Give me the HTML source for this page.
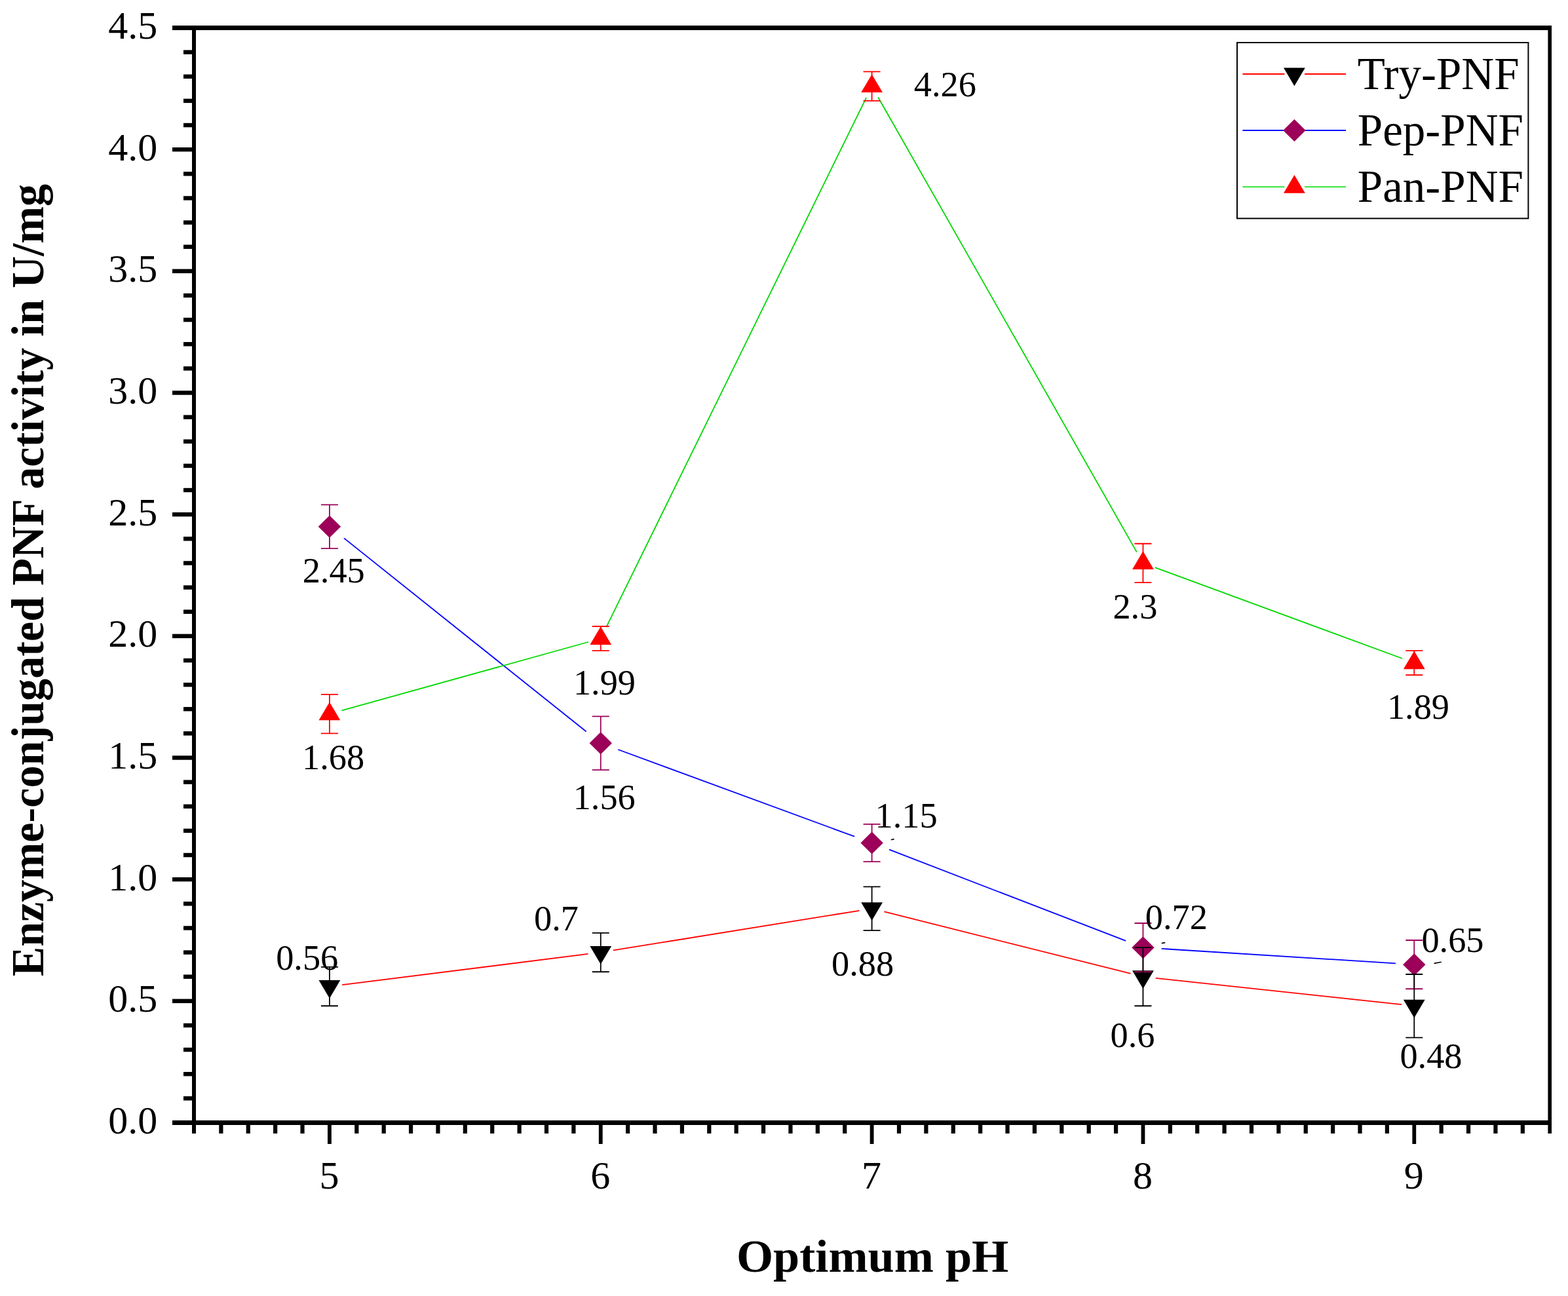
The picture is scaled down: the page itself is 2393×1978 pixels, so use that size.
<!DOCTYPE html>
<html lang="en">
<head>
<meta charset="utf-8">
<title>Enzyme-conjugated PNF activity vs. optimum pH</title>
<style>
html,body{margin:0;padding:0;background:#ffffff;}
body{width:2393px;height:1978px;overflow:hidden;}
svg{display:block;}
</style>
</head>
<body>
<svg width="2393" height="1978" viewBox="0 0 2393 1978" role="img" aria-label="Enzyme-conjugated PNF activity versus optimum pH">
<rect x="0" y="0" width="2393" height="1978" fill="#ffffff"/>
<g fill="none" stroke-width="1.8" stroke-linecap="butt">
<line x1="522.17" y1="1503.14" x2="897.51" y2="1455.98" stroke="#ff0000"/>
<line x1="935.91" y1="1450.47" x2="1311.45" y2="1389.82" stroke="#ff0000"/>
<line x1="1349.42" y1="1391.45" x2="1725.62" y2="1485.97" stroke="#ff0000"/>
<line x1="1763.73" y1="1492.78" x2="2138.99" y2="1533.18" stroke="#ff0000"/>
<line x1="525.03" y1="821.39" x2="894.65" y2="1116.56" stroke="#0000ff"/>
<line x1="943.32" y1="1143.99" x2="1304.04" y2="1276.7" stroke="#0000ff"/>
<line x1="1357" y1="1296.65" x2="1718.04" y2="1435.95" stroke="#0000ff"/>
<line x1="1772.68" y1="1447.91" x2="2130.04" y2="1470.36" stroke="#0000ff"/>
<line x1="521.61" y1="1084.46" x2="898.07" y2="979.75" stroke="#00d800"/>
<line x1="925.31" y1="957.13" x2="1322.05" y2="149.03" stroke="#00d800"/>
<line x1="1340.19" y1="148.48" x2="1734.85" y2="842.57" stroke="#00d800"/>
<line x1="1762.65" y1="866.13" x2="2140.07" y2="1004.98" stroke="#00d800"/>
</g>
<polygon points="486.52,1496.05 519.32,1496.05 502.92,1523.75" fill="#000000"/>
<polygon points="900.36,1444.07 933.16,1444.07 916.76,1471.77" fill="#000000"/>
<polygon points="1314.2,1377.23 1347,1377.23 1330.6,1404.93" fill="#000000"/>
<polygon points="1728.04,1481.2 1760.84,1481.2 1744.44,1508.9" fill="#000000"/>
<polygon points="2141.88,1525.76 2174.68,1525.76 2158.28,1553.46" fill="#000000"/>
<polygon points="485.72,803.73 502.92,786.73 520.12,803.73 502.92,820.73" fill="#9c0058"/>
<polygon points="899.56,1134.22 916.76,1117.22 933.96,1134.22 916.76,1151.22" fill="#9c0058"/>
<polygon points="1313.4,1286.47 1330.6,1269.47 1347.8,1286.47 1330.6,1303.47" fill="#9c0058"/>
<polygon points="1727.24,1446.14 1744.44,1429.14 1761.64,1446.14 1744.44,1463.14" fill="#9c0058"/>
<polygon points="2141.08,1472.13 2158.28,1455.13 2175.48,1472.13 2158.28,1489.13" fill="#9c0058"/>
<polygon points="486.52,1099.16 519.32,1099.16 502.92,1071.46" fill="#ff0000"/>
<polygon points="900.36,984.05 933.16,984.05 916.76,956.35" fill="#ff0000"/>
<polygon points="1314.2,141.12 1347,141.12 1330.6,113.42" fill="#ff0000"/>
<polygon points="1728.04,868.93 1760.84,868.93 1744.44,841.23" fill="#ff0000"/>
<polygon points="2141.88,1021.18 2174.68,1021.18 2158.28,993.48" fill="#ff0000"/>
<g stroke="#ff0000" stroke-width="1.8" fill="none">
<path d="M502.92 1059.95V1119.37M489.92 1059.95H515.92M489.92 1119.37H515.92"/>
<path d="M916.76 955.98V993.11M903.76 955.98H929.76M903.76 993.11H929.76"/>
<path d="M1330.6 109.34V153.9M1317.6 109.34H1343.6M1317.6 153.9H1343.6"/>
<path d="M1744.44 829.73V889.14M1731.44 829.73H1757.44M1731.44 889.14H1757.44"/>
<path d="M2158.28 993.11V1030.25M2145.28 993.11H2171.28M2145.28 1030.25H2171.28"/>
</g>
<g stroke="#9c0058" stroke-width="1.8" fill="none">
<path d="M502.92 770.31V837.15M489.92 770.31H515.92M489.92 837.15H515.92"/>
<path d="M916.76 1093.37V1175.07M903.76 1093.37H929.76M903.76 1175.07H929.76"/>
<path d="M1330.6 1257.87V1315.06M1317.6 1257.87H1343.6M1317.6 1315.06H1343.6"/>
<path d="M1744.44 1409.01V1483.27M1731.44 1409.01H1757.44M1731.44 1483.27H1757.44"/>
<path d="M2158.28 1435V1509.27M2145.28 1435H2171.28M2145.28 1509.27H2171.28"/>
</g>
<g stroke="#000000" stroke-width="1.8" fill="none">
<path d="M502.92 1475.85V1535.26M489.92 1475.85H515.92M489.92 1535.26H515.92"/>
<path d="M916.76 1423.86V1483.27M903.76 1423.86H929.76M903.76 1483.27H929.76"/>
<path d="M1330.6 1353.31V1420.15M1317.6 1353.31H1343.6M1317.6 1420.15H1343.6"/>
<path d="M1744.44 1446.14V1535.26M1731.44 1446.14H1757.44M1731.44 1535.26H1757.44"/>
<path d="M2158.28 1486.99V1583.53M2145.28 1486.99H2171.28M2145.28 1583.53H2171.28"/>
</g>
<g fill="#000000">
<rect x="263" y="39" width="2105" height="7"/>
<rect x="263" y="1710" width="2105" height="7"/>
<rect x="293" y="39" width="6" height="1691"/>
<rect x="2362.4" y="39" width="5.6" height="1691"/>
<rect x="280" y="1673.17" width="14" height="6.4"/>
<rect x="280" y="1636.03" width="14" height="6.4"/>
<rect x="280" y="1598.9" width="14" height="6.4"/>
<rect x="280" y="1561.77" width="14" height="6.4"/>
<rect x="263" y="1524.63" width="31" height="6.4"/>
<rect x="280" y="1487.5" width="14" height="6.4"/>
<rect x="280" y="1450.37" width="14" height="6.4"/>
<rect x="280" y="1413.23" width="14" height="6.4"/>
<rect x="280" y="1376.1" width="14" height="6.4"/>
<rect x="263" y="1338.97" width="31" height="6.4"/>
<rect x="280" y="1301.83" width="14" height="6.4"/>
<rect x="280" y="1264.7" width="14" height="6.4"/>
<rect x="280" y="1227.57" width="14" height="6.4"/>
<rect x="280" y="1190.43" width="14" height="6.4"/>
<rect x="263" y="1153.3" width="31" height="6.4"/>
<rect x="280" y="1116.17" width="14" height="6.4"/>
<rect x="280" y="1079.03" width="14" height="6.4"/>
<rect x="280" y="1041.9" width="14" height="6.4"/>
<rect x="280" y="1004.77" width="14" height="6.4"/>
<rect x="263" y="967.63" width="31" height="6.4"/>
<rect x="280" y="930.5" width="14" height="6.4"/>
<rect x="280" y="893.37" width="14" height="6.4"/>
<rect x="280" y="856.23" width="14" height="6.4"/>
<rect x="280" y="819.1" width="14" height="6.4"/>
<rect x="263" y="781.97" width="31" height="6.4"/>
<rect x="280" y="744.83" width="14" height="6.4"/>
<rect x="280" y="707.7" width="14" height="6.4"/>
<rect x="280" y="670.57" width="14" height="6.4"/>
<rect x="280" y="633.43" width="14" height="6.4"/>
<rect x="263" y="596.3" width="31" height="6.4"/>
<rect x="280" y="559.17" width="14" height="6.4"/>
<rect x="280" y="522.03" width="14" height="6.4"/>
<rect x="280" y="484.9" width="14" height="6.4"/>
<rect x="280" y="447.77" width="14" height="6.4"/>
<rect x="263" y="410.63" width="31" height="6.4"/>
<rect x="280" y="373.5" width="14" height="6.4"/>
<rect x="280" y="336.37" width="14" height="6.4"/>
<rect x="280" y="299.23" width="14" height="6.4"/>
<rect x="280" y="262.1" width="14" height="6.4"/>
<rect x="263" y="224.97" width="31" height="6.4"/>
<rect x="280" y="187.83" width="14" height="6.4"/>
<rect x="280" y="150.7" width="14" height="6.4"/>
<rect x="280" y="113.57" width="14" height="6.4"/>
<rect x="280" y="76.43" width="14" height="6.4"/>
<rect x="334.28" y="1716" width="6.2" height="14"/>
<rect x="375.67" y="1716" width="6.2" height="14"/>
<rect x="417.05" y="1716" width="6.2" height="14"/>
<rect x="458.44" y="1716" width="6.2" height="14"/>
<rect x="500.02" y="1716" width="5.8" height="30"/>
<rect x="541.2" y="1716" width="6.2" height="14"/>
<rect x="582.59" y="1716" width="6.2" height="14"/>
<rect x="623.97" y="1716" width="6.2" height="14"/>
<rect x="665.36" y="1716" width="6.2" height="14"/>
<rect x="706.74" y="1716" width="6.2" height="14"/>
<rect x="748.12" y="1716" width="6.2" height="14"/>
<rect x="789.51" y="1716" width="6.2" height="14"/>
<rect x="830.89" y="1716" width="6.2" height="14"/>
<rect x="872.28" y="1716" width="6.2" height="14"/>
<rect x="913.86" y="1716" width="5.8" height="30"/>
<rect x="955.04" y="1716" width="6.2" height="14"/>
<rect x="996.43" y="1716" width="6.2" height="14"/>
<rect x="1037.81" y="1716" width="6.2" height="14"/>
<rect x="1079.2" y="1716" width="6.2" height="14"/>
<rect x="1120.58" y="1716" width="6.2" height="14"/>
<rect x="1161.96" y="1716" width="6.2" height="14"/>
<rect x="1203.35" y="1716" width="6.2" height="14"/>
<rect x="1244.73" y="1716" width="6.2" height="14"/>
<rect x="1286.12" y="1716" width="6.2" height="14"/>
<rect x="1327.7" y="1716" width="5.8" height="30"/>
<rect x="1368.88" y="1716" width="6.2" height="14"/>
<rect x="1410.27" y="1716" width="6.2" height="14"/>
<rect x="1451.65" y="1716" width="6.2" height="14"/>
<rect x="1493.04" y="1716" width="6.2" height="14"/>
<rect x="1534.42" y="1716" width="6.2" height="14"/>
<rect x="1575.8" y="1716" width="6.2" height="14"/>
<rect x="1617.19" y="1716" width="6.2" height="14"/>
<rect x="1658.57" y="1716" width="6.2" height="14"/>
<rect x="1699.96" y="1716" width="6.2" height="14"/>
<rect x="1741.54" y="1716" width="5.8" height="30"/>
<rect x="1782.72" y="1716" width="6.2" height="14"/>
<rect x="1824.11" y="1716" width="6.2" height="14"/>
<rect x="1865.49" y="1716" width="6.2" height="14"/>
<rect x="1906.88" y="1716" width="6.2" height="14"/>
<rect x="1948.26" y="1716" width="6.2" height="14"/>
<rect x="1989.64" y="1716" width="6.2" height="14"/>
<rect x="2031.03" y="1716" width="6.2" height="14"/>
<rect x="2072.41" y="1716" width="6.2" height="14"/>
<rect x="2113.8" y="1716" width="6.2" height="14"/>
<rect x="2155.38" y="1716" width="5.8" height="30"/>
<rect x="2196.56" y="1716" width="6.2" height="14"/>
<rect x="2237.95" y="1716" width="6.2" height="14"/>
<rect x="2279.33" y="1716" width="6.2" height="14"/>
<rect x="2320.72" y="1716" width="6.2" height="14"/>
</g>
<g font-family="'Liberation Serif', serif" font-size="60" fill="#000000">
<text x="240.3" y="1729.9" text-anchor="end">0.0</text>
<text x="240.3" y="1544.23" text-anchor="end">0.5</text>
<text x="240.3" y="1358.57" text-anchor="end">1.0</text>
<text x="240.3" y="1172.9" text-anchor="end">1.5</text>
<text x="240.3" y="987.23" text-anchor="end">2.0</text>
<text x="240.3" y="801.57" text-anchor="end">2.5</text>
<text x="240.3" y="615.9" text-anchor="end">3.0</text>
<text x="240.3" y="430.23" text-anchor="end">3.5</text>
<text x="240.3" y="244.57" text-anchor="end">4.0</text>
<text x="240.3" y="58.9" text-anchor="end">4.5</text>
<text x="502.42" y="1814.2" text-anchor="middle">5</text>
<text x="916.26" y="1814.2" text-anchor="middle">6</text>
<text x="1330.1" y="1814.2" text-anchor="middle">7</text>
<text x="1743.94" y="1814.2" text-anchor="middle">8</text>
<text x="2157.78" y="1814.2" text-anchor="middle">9</text>
</g>
<g font-family="'Liberation Serif', serif" font-size="55" fill="#000000" text-anchor="middle">
<text transform="translate(468.7 1479.5) scale(0.988 1)">0.56</text>
<text transform="translate(849 1419.5) scale(0.988 1)">0.7</text>
<text transform="translate(1316.55 1489.4) scale(0.988 1)">0.88</text>
<text transform="translate(1728.5 1597.7) scale(0.988 1)">0.6</text>
<text transform="translate(2184 1630) scale(0.988 1)">0.48</text>
<text transform="translate(509.2 889.1) scale(0.988 1)">2.45</text>
<text transform="translate(922.25 1235.1) scale(0.988 1)">1.56</text>
<text transform="translate(1383.05 1263) scale(0.988 1)">1.15</text>
<text transform="translate(1795.3 1418.4) scale(0.988 1)">0.72</text>
<text transform="translate(2217 1453) scale(0.988 1)">0.65</text>
<text transform="translate(508.55 1173.6) scale(0.988 1)">1.68</text>
<text transform="translate(922.45 1059.5) scale(0.988 1)">1.99</text>
<text transform="translate(1442.35 146.9) scale(0.988 1)">4.26</text>
<text transform="translate(1732.35 944.3) scale(0.988 1)">2.3</text>
<text transform="translate(2164.5 1096.7) scale(0.988 1)">1.89</text>
</g>
<g stroke="#000000" stroke-width="1.6" fill="none">
<path d="M1359.8 1281.8L1364.6 1280.6M1772.8 1439.6L1778.2 1438.6M2188.6 1470.4L2199.8 1468.2"/>
</g>
<rect x="1888" y="65" width="444.4" height="268.4" fill="#ffffff" stroke="#000000" stroke-width="2"/>
<g font-family="'Liberation Serif', serif" font-size="69" fill="#000000">
<path d="M1896.4 113H1960.4M1991 113H2054" stroke="#ff0000" stroke-width="2" fill="none"/>
<polygon points="1959,103.5 1991.8,103.5 1975.4,131.2" fill="#000000"/>
<text x="2071.8" y="136.2">Try-PNF</text>
<path d="M1896.4 199H1960.4M1991 199H2054" stroke="#0000ff" stroke-width="2" fill="none"/>
<polygon points="1958.2,199 1975.4,182 1992.6,199 1975.4,216" fill="#9c0058"/>
<text x="2071.8" y="221.9">Pep-PNF</text>
<path d="M1896.4 285.2H1960.4M1991 285.2H2054" stroke="#00d800" stroke-width="1.6" fill="none"/>
<polygon points="1959,294.7 1991.8,294.7 1975.4,267" fill="#ff0000"/>
<text x="2071.8" y="307.9">Pan-PNF</text>
</g>
<g font-family="'Liberation Serif', serif" font-weight="bold" fill="#000000">
<text transform="translate(1331.6 1941) scale(1.032 1)" font-size="70" text-anchor="middle">Optimum pH</text>
<text transform="translate(66 885.6) rotate(-90) scale(0.9855 1)" font-size="69.2" text-anchor="middle">Enzyme-conjugated PNF activity in U/mg</text>
</g>
</svg>
</body>
</html>
